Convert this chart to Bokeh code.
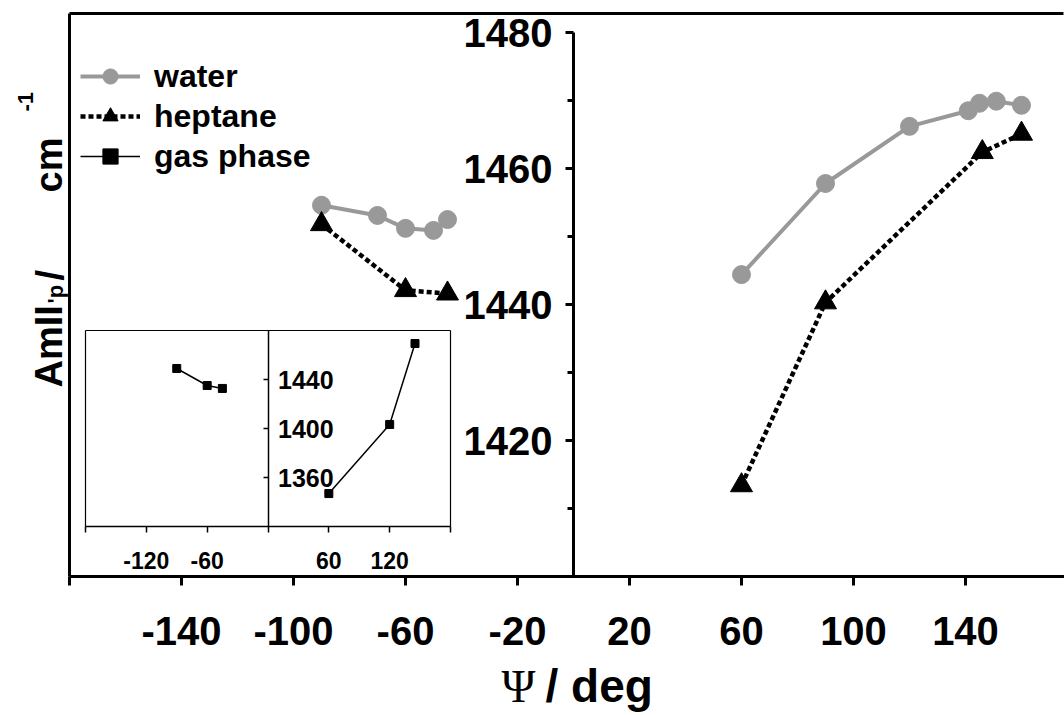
import math

from bokeh.embed import file_html
from bokeh.models import FixedTicker, Label, Legend, LegendItem, LinearAxis, Range1d
from bokeh.plotting import figure
from bokeh.resources import INLINE

# Amide II' (p) frequency versus the Psi torsion angle
water_left_psi = [-90, -70, -60, -50, -45]
water_left_freq = [1454.6, 1453.1, 1451.2, 1450.9, 1452.5]
water_right_psi = [60, 90, 120, 141, 145, 151, 160]
water_right_freq = [1444.4, 1457.8, 1466.2, 1468.5, 1469.6, 1469.9, 1469.3]

heptane_left_psi = [-90, -60, -45]
heptane_left_freq = [1451.8, 1442.1, 1441.6]
heptane_right_psi = [60, 90, 146, 160]
heptane_right_freq = [1413.4, 1440.3, 1462.4, 1465.1]

# gas phase values (shown in the inset)
gas_left_psi = [-90, -60, -45]
gas_left_freq = [1449.0, 1435.1, 1432.7]
gas_right_psi = [60, 120, 145]
gas_right_freq = [1346.9, 1403.3, 1469.4]

x_ticks = [-180, -140, -100, -60, -20, 20, 60, 100, 140]
y_ticks = [1420, 1440, 1460, 1480]
y_minor_ticks = [1410, 1430, 1450, 1470]
inset_x_ticks = [-180, -120, -60, 0, 60, 120, 180]
inset_y_ticks = [1360, 1400, 1440]

GRAY = "#999999"
FONT = "Liberation Sans"
W, H = 1064, 715

# Main data box: Psi -180..175, frequency 1400..1482.8, placed in page pixels
MAIN_X, MAIN_PX = (-180, 175), (69, 1063)
MAIN_Y, MAIN_PY = (1400, 1482.8), (576, 13)
# Inset data box: Psi -180..180, frequency 1320..1480
INSET_X, INSET_PX = (-180, 180), (85, 450)
INSET_Y, INSET_PY = (1320, 1480), (526, 330)


def x_span(vals, pix):
    (v0, v1), (p0, p1) = vals, pix
    k = (p1 - p0) / (v1 - v0)
    return Range1d(v0 - p0 / k, v1 + (W - p1) / k)


def y_span(vals, pix):
    (v0, v1), (pb, pt) = vals, pix
    k = (pb - pt) / (v1 - v0)
    return Range1d(v0 - (H - pb) / k, v1 + pt / k)


p = figure(
    width=W, height=H, output_backend="svg", toolbar_location=None,
    x_range=x_span(MAIN_X, MAIN_PX), y_range=y_span(MAIN_Y, MAIN_PY),
    x_axis_location=None, y_axis_location=None,
    min_border=0,
)
p.outline_line_color = None
p.background_fill_color = "white"
p.border_fill_color = "white"
for g in p.grid:
    g.visible = False

inset_kw = dict(x_range_name="inset", y_range_name="inset")
p.extra_x_ranges = {"inset": x_span(INSET_X, INSET_PX)}
p.extra_y_ranges = {"inset": y_span(INSET_Y, INSET_PY)}


def hyphen_labels(ticks, hide=()):
    return {t: ("" if t in hide else str(t)) for t in ticks}


def plain_axis(**kw):
    ax = LinearAxis(ticker=FixedTicker(ticks=[]), major_tick_out=0, major_tick_in=0,
                    minor_tick_out=0, minor_tick_in=0, **kw)
    ax.major_label_text_font_size = "0px"
    return ax


label_style = dict(major_label_text_font=FONT, major_label_text_font_style="bold",
                   major_label_text_color="black")

# main axes
xaxis = LinearAxis(
    fixed_location=MAIN_Y[0], bounds=(-180, 180),
    ticker=FixedTicker(ticks=x_ticks), major_label_overrides=hyphen_labels(x_ticks, hide=(-180,)),
    axis_line_width=3, major_tick_line_width=3, major_tick_out=9, major_tick_in=0,
    major_label_standoff=31, major_label_text_font_size="40px", **label_style,
)
p.add_layout(xaxis, "below")

yaxis = LinearAxis(
    fixed_location=0, bounds=(1400, 1480),
    ticker=FixedTicker(ticks=y_ticks, minor_ticks=y_minor_ticks),
    major_label_overrides=hyphen_labels(y_ticks),
    axis_line_width=3, major_tick_line_width=3, minor_tick_line_width=3,
    major_tick_out=8, major_tick_in=0, minor_tick_out=6, minor_tick_in=0,
    major_label_standoff=13, major_label_text_font_size="40px", **label_style,
)
p.add_layout(yaxis, "left")

# plot-area border (top and left)
p.add_layout(plain_axis(fixed_location=MAIN_Y[1], bounds=MAIN_X, axis_line_width=3), "above")
p.add_layout(plain_axis(fixed_location=MAIN_X[0], bounds=MAIN_Y, axis_line_width=3), "left")

# inset axes
ixaxis = LinearAxis(
    fixed_location=INSET_Y[0], bounds=INSET_X, ticker=FixedTicker(ticks=inset_x_ticks),
    major_label_overrides=hyphen_labels(inset_x_ticks, hide=(-180, 0, 180)),
    axis_line_width=1.5, major_tick_line_width=1.5, major_tick_out=6, major_tick_in=0,
    major_label_standoff=19, major_label_text_font_size="23px", **label_style, **inset_kw,
)
p.add_layout(ixaxis, "below")

iyaxis = LinearAxis(
    fixed_location=0, bounds=INSET_Y, ticker=FixedTicker(ticks=inset_y_ticks),
    major_label_overrides=hyphen_labels(inset_y_ticks),
    axis_line_width=1.5, major_tick_line_width=1.5, major_tick_out=0, major_tick_in=5,
    major_label_standoff=10, major_label_text_font_size="25px", **label_style, **inset_kw,
)
p.add_layout(iyaxis, "right")

p.add_layout(plain_axis(fixed_location=INSET_Y[1], bounds=INSET_X, axis_line_width=1.2, **inset_kw), "above")
p.add_layout(plain_axis(fixed_location=INSET_X[0], bounds=INSET_Y, axis_line_width=1.2, **inset_kw), "left")
p.add_layout(plain_axis(fixed_location=INSET_X[1], bounds=INSET_Y, axis_line_width=1.2, **inset_kw), "right")

# series
w1 = p.line(water_left_psi, water_left_freq, line_color=GRAY, line_width=4)
w2 = p.line(water_right_psi, water_right_freq, line_color=GRAY, line_width=4)
wm1 = p.scatter(water_left_psi, water_left_freq, marker="circle", size=18, color=GRAY)
wm2 = p.scatter(water_right_psi, water_right_freq, marker="circle", size=18, color=GRAY)

h1 = p.line(heptane_left_psi, heptane_left_freq, line_color="black", line_width=4.5, line_dash="5 3")
h2 = p.line(heptane_right_psi, heptane_right_freq, line_color="black", line_width=4.5, line_dash="5 3")
hm1 = p.scatter(heptane_left_psi, heptane_left_freq, marker="triangle", size=22, color="black")
hm2 = p.scatter(heptane_right_psi, heptane_right_freq, marker="triangle", size=22, color="black")

g1 = p.line(gas_left_psi, gas_left_freq, line_color="black", line_width=1.5, **inset_kw)
g2 = p.line(gas_right_psi, gas_right_freq, line_color="black", line_width=1.5, **inset_kw)
gm1 = p.scatter(gas_left_psi, gas_left_freq, marker="square", size=8, color="black", **inset_kw)
gm2 = p.scatter(gas_right_psi, gas_right_freq, marker="square", size=8, color="black", **inset_kw)

legend = Legend(
    items=[
        LegendItem(label="water", renderers=[w1, wm1]),
        LegendItem(label="heptane", renderers=[h1, hm1]),
        LegendItem(label="gas phase", renderers=[g1, gm1]),
    ],
    location=(80, H - 175), orientation="vertical",
    border_line_color=None, background_fill_alpha=0, padding=0, margin=0,
    glyph_width=60, glyph_height=38, label_standoff=14, spacing=2,
    label_text_font=FONT, label_text_font_style="bold", label_text_font_size="32px",
    label_text_color="black", label_text_baseline="middle",
)
p.add_layout(legend, "center")

BASELINE_SHIFT = 0.375  # distance from label anchor to glyph baseline, in em


def lbl(text, px, py, size, rotated=False, font=FONT, style="bold"):
    # (px, py): start of the text baseline in page pixels, top-left origin
    if rotated:
        px -= BASELINE_SHIFT * size
    else:
        py -= BASELINE_SHIFT * size
    p.add_layout(Label(
        x=px, y=H - py, x_units="screen", y_units="screen",
        text=text, angle=math.pi / 2 if rotated else 0.0,
        text_font=font, text_font_style=style,
        text_font_size=f"{size}px", text_color="black",
        text_align="left", text_baseline="alphabetic",
    ))


# y-axis title: AmII'p / cm^-1 (reads bottom to top)
lbl("AmII", 63, 387, 38, rotated=True)
lbl("'p", 63, 303, 22, rotated=True)
lbl("/", 64, 280, 38, rotated=True)
lbl("cm", 63, 192, 38, rotated=True)
lbl("-1", 33, 111, 22, rotated=True)

# x-axis title
lbl("\u03a8", 501, 703, 46, font="Liberation Serif", style="normal")
lbl("/ deg", 545, 703, 46)

open("out.html", "w").write(file_html(p, INLINE))
